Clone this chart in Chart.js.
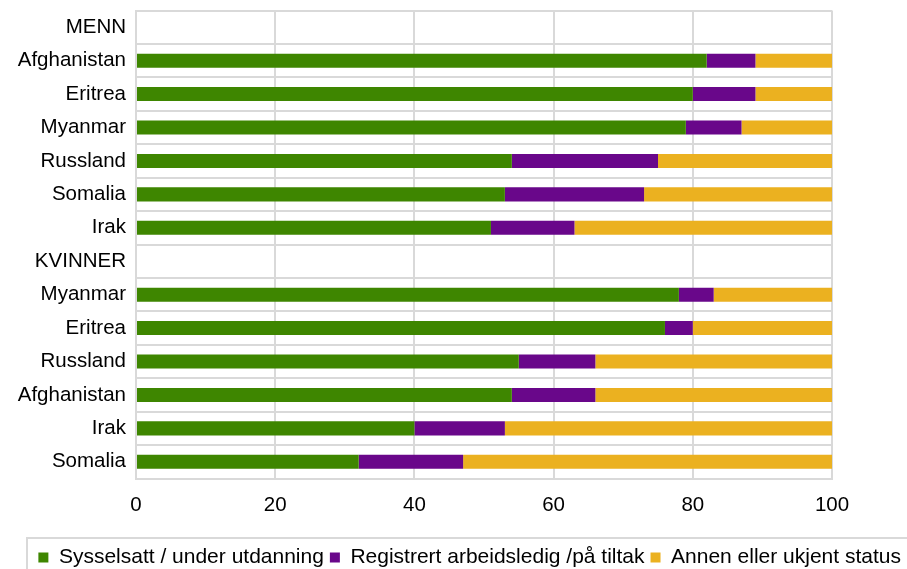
<!DOCTYPE html>
<html>
<head>
<meta charset="utf-8">
<script src="https://cdn.jsdelivr.net/npm/chart.js@4"></script>
<style>
  html, body { margin: 0; padding: 0; background: #fff; overflow: hidden; }
  #wrap { width: 907px; height: 569px; overflow: hidden; }
</style>
</head>
<body>
<div id="wrap"><canvas id="chartCanvas" width="907" height="578"></canvas></div>
<script>
// Kategorier (MENN / KVINNER er overskrifter uten data)
const kategorier = ['MENN', 'Afghanistan', 'Eritrea', 'Myanmar', 'Russland', 'Somalia', 'Irak',
    'KVINNER', 'Myanmar', 'Eritrea', 'Russland', 'Afghanistan', 'Irak', 'Somalia'];

const sysselsatt = [null, 82, 80, 79, 54, 53, 51, null, 78, 76, 55, 54, 40, 32];
const registrert = [null, 7, 9, 8, 21, 20, 12, null, 5, 4, 11, 12, 13, 15];
const annen      = [null, 11, 11, 13, 25, 27, 37, null, 17, 20, 34, 34, 47, 53];

const xTicks = [0, 20, 40, 60, 80, 100];

const gridFarge = '#d9d9d9';
const fontFamily = '"Liberation Sans", Arial, sans-serif';

// Ramme rundt legenden
const legendRamme = {
    id: 'legendRamme',
    afterDraw(chart) {
        const lg = chart.legend;
        const c = chart.ctx;
        c.save();
        c.strokeStyle = gridFarge;
        c.lineWidth = 2;
        c.strokeRect(27, lg.top - 3, 900, 80);
        c.restore();
    }
};

const ctx = document.getElementById('chartCanvas').getContext('2d');
new Chart(ctx, {
    type: 'bar',
    data: {
        labels: kategorier,
        datasets: [{
            label: 'Sysselsatt / under utdanning',
            data: sysselsatt,
            backgroundColor: '#3e8600'
        }, {
            label: 'Registrert arbeidsledig /på tiltak',
            data: registrert,
            backgroundColor: '#69078a'
        }, {
            label: 'Annen eller ukjent status',
            data: annen,
            backgroundColor: '#ebb120'
        }]
    },
    options: {
        indexAxis: 'y',
        responsive: false,
        animation: false,
        devicePixelRatio: 1,
        layout: { padding: 0 },
        datasets: { bar: { categoryPercentage: 1, barPercentage: 0.42, borderWidth: 0 } },
        scales: {
            x: {
                stacked: true,
                min: 0,
                max: 100,
                afterBuildTicks: (axis) => { axis.ticks = xTicks.map(v => ({ value: v })); },
                afterFit: (axis) => { axis.height = 62.5; },
                grid: { color: gridFarge, lineWidth: 2, drawTicks: false },
                border: { color: gridFarge, width: 2 },
                ticks: { color: '#000', padding: 15, font: { family: fontFamily, size: 20.5 } }
            },
            y: {
                stacked: true,
                afterFit: (axis) => { axis.width = 136; },
                grid: { color: gridFarge, lineWidth: 2, drawTicks: false },
                border: { color: gridFarge, width: 2 },
                ticks: { color: '#000', padding: 10, font: { family: fontFamily, size: 20.5, lineHeight: 0.05 } }
            },
            hoyre: {
                type: 'linear',
                axis: 'y',
                position: 'right',
                afterFit: (axis) => { axis.width = 75; },
                grid: { display: false },
                border: { display: false },
                ticks: { display: false }
            }
        },
        plugins: {
            legend: {
                position: 'bottom',
                align: 'end',
                labels: {
                    boxWidth: 10,
                    boxHeight: 10,
                    padding: 6,
                    color: '#000',
                    font: { family: fontFamily, size: 21 }
                }
            },
            tooltip: { enabled: false }
        }
    },
    plugins: [legendRamme]
});
</script>
</body>
</html>
